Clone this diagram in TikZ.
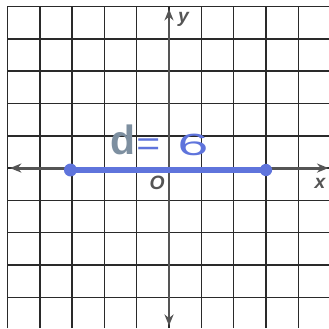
\documentclass[tikz,border=0pt]{standalone}
\usepackage{fontspec}
\setmainfont{Liberation Sans}
\usetikzlibrary{arrows.meta}
\definecolor{gridc}{HTML}{2A2A2A}
\definecolor{axisc}{HTML}{555555}
\definecolor{penblue}{HTML}{5F74DC}
\definecolor{dgray}{HTML}{7D8FA0}
\tikzset{
  gridline/.style={draw=gridc, line width=1.4pt},
  axisline/.style={draw=axisc, line width=2.6pt, {Stealth[length=10pt,width=8pt]}-{Stealth[length=10pt,width=8pt]}},
  seg/.style={draw=penblue, line width=5pt, line cap=round},
  lbl/.style={font=\itshape\bfseries\fontsize{17}{17}\selectfont, text=axisc, inner sep=0pt},
  hand/.style={inner sep=0pt}
}
\begin{document}
\begin{tikzpicture}
\useasboundingbox[fill=white] (-5.23,-4.95) rectangle (4.95,5.2);
\draw[gridline] (-5,-4.95) grid (4.95,5);
\draw[gridline] (-5,5) -- (4.95,5);
\draw[gridline] (-5,-4.95) -- (-5,5);
% axes
\coordinate (xl) at (-4.92,0);
\coordinate (xr) at (4.93,0);
\coordinate (yt) at (0,4.92);
\coordinate (yb) at (0,-4.88);
\draw[axisline] (xl) -- (xr);
\draw[axisline] (yb) -- (yt);
\node[lbl] (ylab) at (0.45,4.6) {y};
\node[lbl] (xlab) at (4.67,-0.47) {x};
\node[lbl] (olab) at (-0.37,-0.47) {O};
% blue segment
\coordinate (pa) at (-3.05,-0.06);
\coordinate (pb) at (3.0,-0.06);
\draw[seg] (pa) -- (pb);
\fill[penblue] (pa) circle (0.2);
\fill[penblue] (pb) circle (0.19);
% handwritten label
\node[hand, text=dgray, font=\bfseries\fontsize{36}{36}\selectfont] (dl) at (-1.42,0.88) {d};
\node[hand, text=penblue, font=\fontsize{30}{30}\selectfont, xscale=1.2] (eq) at (-0.64,0.66) {=};
\node[hand, text=penblue, font=\fontsize{27}{27}\selectfont, xscale=1.8] (six) at (0.74,0.72) {6};
\end{tikzpicture}
\end{document}
